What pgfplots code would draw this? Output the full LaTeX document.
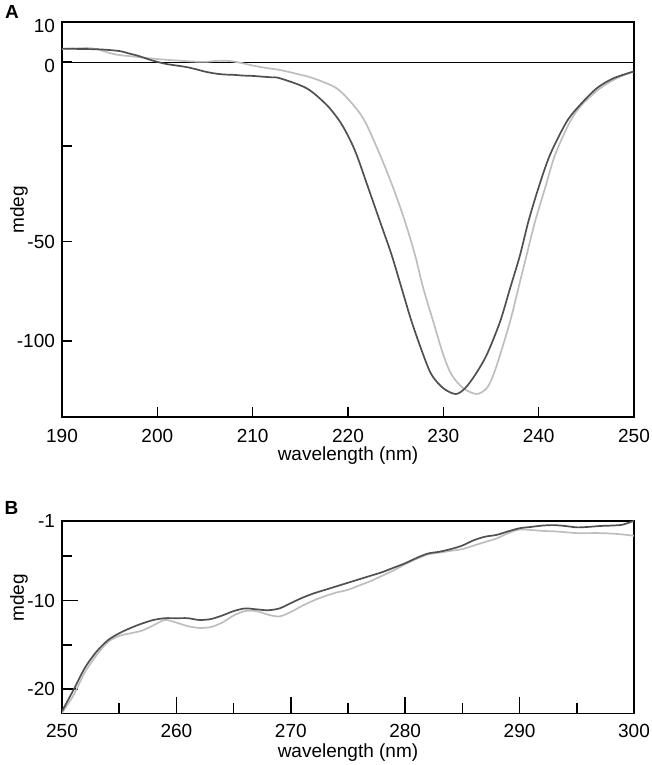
\documentclass[border=0pt]{standalone}
\usepackage{fontspec}
\setmainfont{Liberation Sans}
\usepackage{pgfplots}
\pgfplotsset{compat=1.18}
\definecolor{darkc}{HTML}{505050}
\definecolor{lightc}{HTML}{BEBEBE}
\newcommand{\myfs}{\fontsize{9.5}{11}\selectfont}
\pgfplotsset{
  base/.style={
    scale only axis, width=286pt,
    /pgf/number format/assume math mode=true,
    axis line style={line width=0.8pt},
    tick style={line width=0.8pt, black},
    tick align=inside, xtick pos=bottom, ytick pos=left,
    every tick label/.append style={font=\myfs},
    every axis x label/.style={at={(axis description cs:0.5,0)}, anchor=center, font=\myfs},
    clip=true,
  }
}
\begin{document}
\begin{tikzpicture}[x=1pt,y=1pt]
\useasboundingbox (-31pt,-174pt) rectangle (295pt,208.5pt);
% ---------------- Panel A ----------------
\begin{axis}[base, at={(0pt,0pt)}, anchor=south west, height=197.5pt,
  xmin=190, xmax=250, ymin=-138.27, ymax=10,
  y coord trafo/.code={\pgfmathparse{(#1>=0) ? (4.03*(#1)) : (((#1)>=-50) ? (3.588*(#1)) : (-179.4+1.986*((#1)+50)))}},
  y coord inv trafo/.code={\pgfmathparse{(#1>=0) ? ((#1)/4.03) : (((#1)>=-179.4) ? ((#1)/3.588) : (-50+((#1)+179.4)/1.986))}},
  xtick={190,200,...,250},
  xticklabel style={yshift=-2.5pt},
  ytick={10,0,-23.3,-50,-100},
  yticklabels={\raisebox{-2pt}[\height][0pt]{10},\raisebox{-2pt}[\height][0pt]{0},,-50,-100},
  major tick length=5pt,
  xlabel={wavelength (nm)}, xlabel style={yshift=-19.5pt},
]
\addplot[black, line width=0.6pt] coordinates {(190,0) (250,0)};
\addplot[lightc, line width=0.85pt, smooth] table {
x y
190 3.3
192 3.5
193 3.5
194 3.05
195 2.3
196 1.8
198 1.3
200 0.8
202 0.45
204 0.15
205 0.1
206 0.3
207 0.4
208 0.2
209 -0.3
210 -0.9
211 -1.4
212 -1.8
212.87 -2.15
214.6 -3.2
216.37 -4.46
218.81 -7.25
220.56 -11.9
221.79 -16.55
223.36 -25.8
224.76 -35.1
225.98 -44.4
227.03 -56.7
227.9 -73.5
228.95 -90.3
230.0 -107.0
230.88 -117.1
232.1 -123.8
233.5 -126.7
234.55 -123.8
235.25 -117.1
235.95 -107.0
237.0 -90.3
237.87 -73.5
238.74 -56.7
239.62 -44.4
240.67 -35.1
241.72 -25.8
243.29 -16.55
244.51 -11.9
246.44 -7.25
248.19 -4.46
249.93 -2.6
};
\addplot[darkc, line width=0.85pt, smooth] table {
x y
190 3.4
192 3.3
194 3.2
196 2.8
197 2.2
198 1.6
199 0.8
200 0.1
201 -0.5
202 -0.9
203 -1.3
204 -1.9
205 -2.6
206 -3.1
207 -3.4
208 -3.5
209 -3.7
210 -3.8
211 -4.0
212 -4.2
212.87 -4.46
215.67 -7.25
217.77 -11.9
219.16 -16.55
220.14 -21.2
220.91 -25.8
222.14 -35.1
223.36 -44.4
224.58 -56.7
225.63 -73.5
226.68 -90.3
227.9 -107.0
228.78 -117.1
230.0 -123.8
231.3 -126.7
232.28 -123.8
233.33 -117.1
234.55 -107.0
235.95 -90.3
237.0 -73.5
238.05 -56.7
238.92 -44.4
239.97 -35.1
241.19 -25.8
242.94 -16.55
244.34 -11.9
246.09 -7.25
247.84 -4.46
249.93 -2.6
};
\end{axis}
% ---------------- Panel B ----------------
\begin{axis}[base, at={(0pt,-148.15pt)}, anchor=south west, height=96.3pt,
  xmin=250, xmax=300, ymin=-22.73, ymax=-1,
  xtick={250,260,...,300}, minor xtick={255,265,...,295},
  xticklabel style={yshift=-1.8pt},
  ytick={-1,-10,-20}, yticklabels={-1,-10,-20}, minor ytick={-5,-15},
  major tick length=8pt, minor tick length=5pt,
  xlabel={wavelength (nm)}, xlabel style={yshift=-19.5pt},
]
\addplot[lightc, line width=0.85pt, smooth] table {
x y
250 -22.7
251 -20.7
252 -18.1
253 -16.2
254 -14.7
255 -14.0
256 -13.7
257 -13.4
258 -12.8
259 -12.2
260 -12.5
261 -12.9
262 -13.1
263 -13.0
264 -12.5
265 -11.7
266 -11.2
267 -11.2
268 -11.6
269 -11.8
270 -11.3
271 -10.6
272 -10.0
273 -9.5
274 -9.1
275 -8.8
276 -8.3
277 -7.8
278 -7.2
279 -6.6
280 -5.9
281 -5.3
282 -4.8
283 -4.6
284 -4.4
285 -4.2
286 -3.8
287 -3.4
288 -3.0
289 -2.4
290 -2.0
291 -2.05
292 -2.15
293 -2.2
294 -2.3
295 -2.4
296 -2.4
297 -2.4
298 -2.45
299 -2.55
300 -2.7
};
\addplot[darkc, line width=0.85pt, smooth] table {
x y
250 -22.5
251 -20.1
252 -17.6
253 -15.8
254 -14.5
255 -13.7
256 -13.1
257 -12.6
258 -12.2
259 -12.0
260 -12.0
261 -12.0
262 -12.2
263 -12.1
264 -11.7
265 -11.2
266 -10.9
267 -11.0
268 -11.1
269 -10.9
270 -10.3
271 -9.7
272 -9.2
273 -8.8
274 -8.4
275 -8.0
276 -7.6
277 -7.2
278 -6.8
279 -6.3
280 -5.8
281 -5.2
282 -4.7
283 -4.5
284 -4.2
285 -3.8
286 -3.2
287 -2.8
288 -2.6
289 -2.2
290 -1.85
291 -1.7
292 -1.55
293 -1.5
294 -1.6
295 -1.75
296 -1.7
297 -1.6
298 -1.55
299 -1.45
300 -1.0
};
\end{axis}
\node[font=\myfs, rotate=90] at (-21.5pt,103.5pt) {mdeg};
\node[font=\myfs, rotate=90] at (-21.5pt,-90.5pt) {mdeg};
\node[font=\myfs\bfseries] at (-25pt,202.5pt) {A};
\node[font=\myfs\bfseries] at (-25.3pt,-45.5pt) {B};
\end{tikzpicture}
\end{document}
